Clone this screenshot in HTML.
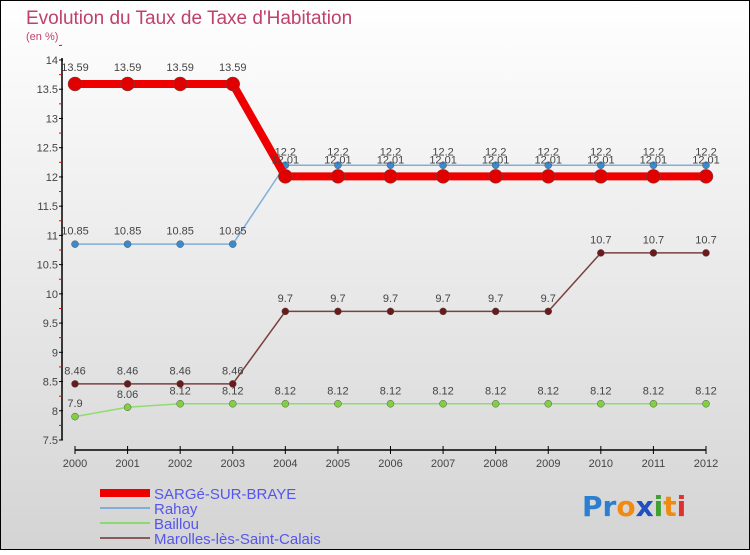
<!DOCTYPE html>
<html><head><meta charset="utf-8"><style>
html,body{margin:0;padding:0}
body{width:750px;height:550px;overflow:hidden;font-family:"Liberation Sans",sans-serif}
</style></head><body>
<svg id="chart" width="750" height="550" xmlns="http://www.w3.org/2000/svg" font-family="Liberation Sans, sans-serif">
<defs><linearGradient id="bg" x1="0" y1="0" x2="0" y2="1"><stop offset="0" stop-color="#ffffff"/><stop offset="1" stop-color="#d4d4d4"/></linearGradient></defs>
<rect x="0.5" y="0.5" width="749" height="549" fill="url(#bg)" stroke="#000"/>
<text x="26" y="24" font-size="19" fill="#c0406a">Evolution du Taux de Taxe d'Habitation</text>
<text x="26" y="40" font-size="11" fill="#c0406a">(en %)</text>
<g id="axes"></g><g id="series"></g>
<g font-size="15" fill="#5555ee">
<rect x="100" y="489" width="50" height="8" fill="#e00"/>
<text x="154" y="499">SARGé-SUR-BRAYE</text>
<line x1="100" y1="508" x2="150" y2="508" stroke="#80aed8" stroke-width="2"/>
<text x="154" y="514">Rahay</text>
<line x1="100" y1="523" x2="150" y2="523" stroke="#8fd870" stroke-width="2"/>
<text x="154" y="529">Baillou</text>
<line x1="100" y1="538" x2="150" y2="538" stroke="#8a5a5a" stroke-width="2"/>
<text x="154" y="544">Marolles-lès-Saint-Calais</text>
</g>
<g font-size="28" font-family="DejaVu Sans, sans-serif" font-weight="bold">
<text x="582" y="516"><tspan fill="#2a7fd0">Pr</tspan><tspan fill="#f08a10">o</tspan><tspan fill="#2050c0">x</tspan><tspan fill="#40a030">i</tspan><tspan fill="#f08a10">t</tspan><tspan fill="#e03030">i</tspan></text>
</g>
</svg>
<script>
var years=[2000,2001,2002,2003,2004,2005,2006,2007,2008,2009,2010,2011,2012];
var yTicks=[7.5,8,8.5,9,9.5,10,10.5,11,11.5,12,12.5,13,13.5,14];
var sargeVals=[13.59,13.59,13.59,13.59,12.01,12.01,12.01,12.01,12.01,12.01,12.01,12.01,12.01];
var rahayVals=[10.85,10.85,10.85,10.85,12.2,12.2,12.2,12.2,12.2,12.2,12.2,12.2,12.2];
var baillouVals=[7.9,8.06,8.12,8.12,8.12,8.12,8.12,8.12,8.12,8.12,8.12,8.12,8.12];
var marollesVals=[8.46,8.46,8.46,8.46,9.7,9.7,9.7,9.7,9.7,9.7,10.7,10.7,10.7];
var NS='http://www.w3.org/2000/svg';
function xs(i){return 75+i*(706-75)/(years.length-1);}
function ys(v){return 440-(v-7.5)*(380/6.5);}
function mk(tag,attrs,parent){var e=document.createElementNS(NS,tag);for(var k in attrs)e.setAttribute(k,attrs[k]);parent.appendChild(e);return e;}
var ax=document.getElementById('axes');
var yl=mk('line',{x1:62,y1:58,x2:62,y2:440,stroke:'#000','stroke-width':1.5},ax);


yTicks.forEach(function(t){
  var y=ys(t);
  mk('line',{x1:59,y1:y,x2:63,y2:y,stroke:'#000'},ax);
  mk('line',{x1:59,y1:ys(t+0.25),x2:62,y2:ys(t+0.25),stroke:'#e00'},ax);
  var tx=mk('text',{x:58,y:y+4,'text-anchor':'end','font-size':11,fill:'#444'},ax);
  tx.textContent=t;
  
  
});
var xl=mk('line',{x1:75,y1:450,x2:706,y2:450,stroke:'#000','stroke-width':1.5},ax);


years.forEach(function(yr,i){
  mk('line',{x1:xs(i),y1:446,x2:xs(i),y2:454,stroke:'#000'},ax);
  var tx=mk('text',{x:xs(i),y:467,'text-anchor':'middle','font-size':11,fill:'#444'},ax);
  tx.textContent=yr;
  
  
});
var sg=document.getElementById('series');
function draw(name,vals,color,w,r,dot){
  var g=mk('g',{},sg);
  
  
  var pts=vals.map(function(v,i){return xs(i)+','+ys(v);}).join(' ');
  mk('polyline',{points:pts,fill:'none',stroke:color,'stroke-width':w,'stroke-linejoin':'round'},g);
  vals.forEach(function(v,i){
    var c=mk('circle',{cx:xs(i),cy:ys(v),r:r,fill:dot,stroke:'#555','stroke-width':0.5},g);
    
    
    var t=mk('text',{x:xs(i),y:ys(v)-(r+6),'text-anchor':'middle','font-size':11,fill:'#444'},g);
    t.textContent=v;
  });
}
draw('marolles',marollesVals,'#7a4040',1.5,3.5,'#6a1a1a');
draw('baillou',baillouVals,'#90dc70',1.5,3.5,'#80d040');
draw('rahay',rahayVals,'#80aed8',1.5,3.5,'#3a8ad0');
draw('sarge',sargeVals,'#ee0000',8,7,'#e00000');
</script>
</body></html>
